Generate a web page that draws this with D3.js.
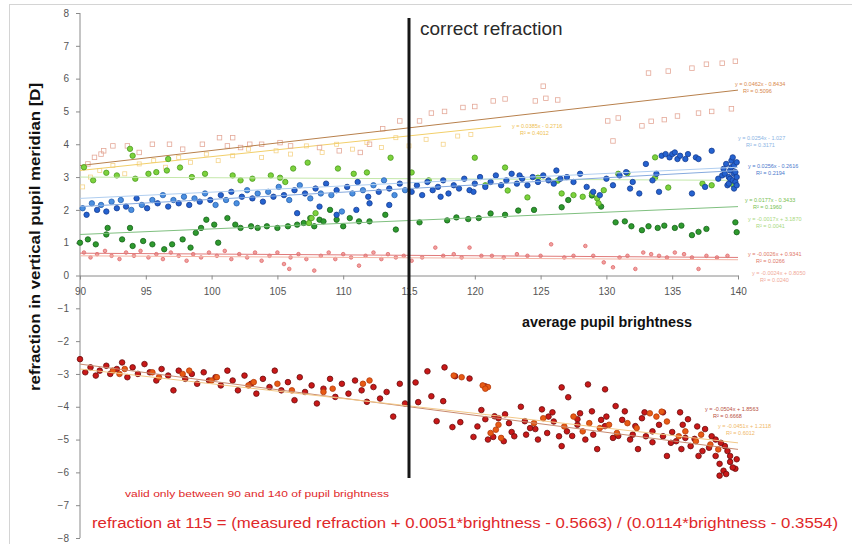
<!DOCTYPE html>
<html>
<head>
<meta charset="utf-8">
<script src="https://cdn.jsdelivr.net/npm/d3@7"></script>
<style>
  body { margin: 0; background: #fff; }
  svg { display: block; font-family: "Liberation Sans", Arial, sans-serif; }
</style>
</head>
<body>
<div id="chart"></div>
<script>
// ---- data: [brightness, refraction] ----
var xTicks = [90, 95, 100, 105, 110, 115, 120, 125, 130, 135, 140];
var yTicks = [-8, -7, -6, -5, -4, -3, -2, -1, 0, 1, 2, 3, 4, 5, 6, 7, 8];

var yellowPts = [[90.2,2.7],[90.8,3.0],[91.5,3.2],[92.5,3.35],[93.4,3.1],[94.5,3.4],[95.6,3.5],[96.5,3.3],[97.5,3.6],[98.4,3.45],[99.6,3.7],[100.5,3.5],[101.6,3.65],[102.8,3.85],[103.8,3.6],[104.9,3.8],[106,3.7],[107.2,3.95],[108.4,3.75],[109.5,4.0],[110.7,3.85],[111.8,4.05],[112.9,3.9],[114,4.2],[115,3.95],[116.3,4.15],[117.6,4.0],[118.7,4.25],[119.7,4.3]];

var salmonPts = [[90.6,3.4],[91.1,3.6],[91.6,3.7],[91.8,3.8],[92.5,3.95],[93.6,3.95],[94.5,3.75],[95.5,4.0],[96.8,4.0],[97.8,3.85],[99.3,4.0],[100.6,4.2],[101.2,3.95],[101.6,4.2],[102.2,3.9],[102.9,4.0],[103.8,4.0],[105.2,4.05],[106,3.95],[108.2,3.9],[109.7,3.8],[111.3,3.75],[112,4.0],[113,4.47],[114.3,4.71],[115.8,4.71],[116.7,4.95],[117.7,5.0],[119.1,5.12],[120,5.15],[121.4,5.32],[122.3,5.38],[124.6,5.32],[125.4,5.4],[126.3,5.35],[125.2,5.77],[130.1,4.71],[130.5,4.1],[130.9,4.8],[132.7,4.56],[133.4,4.7],[134.4,4.75],[135.4,4.86],[137,4.95],[138,5.0],[139.5,5.08],[133.2,6.17],[134.7,6.23],[136.5,6.32],[137.6,6.44],[138.8,6.47],[139.8,6.53]];

var pinkPts = [[90.3,0.7],[90.8,0.55],[91.3,0.65],[91.9,0.75],[92.4,0.6],[93,0.5],[93.5,0.7],[94.1,0.6],[94.6,0.75],[95.2,0.55],[95.8,0.65],[96.3,0.5],[96.9,0.7],[97.5,0.6],[98.1,0.45],[98.6,0.65],[99.2,0.55],[99.8,0.7],[100.4,0.6],[101,0.75],[101.5,0.5],[102.1,0.65],[102.7,0.55],[103.3,0.7],[103.8,0.45],[104.4,0.6],[105,0.7],[105.5,0.35],[106,0.55],[105.9,0.2],[106.6,0.65],[107.2,0.5],[107.8,0.15],[108.3,0.6],[108.9,0.7],[109.4,0.5],[110,0.65],[110.6,0.55],[111.2,0.3],[111.7,0.6],[112.3,0.7],[112.9,0.5],[113.4,0.65],[114,0.55],[114.6,0.6],[115.2,0.45],[116,0.55],[117,0.85],[117.6,0.6],[118.4,0.65],[119,0.55],[119.6,0.85],[120.5,0.6],[121.3,0.6],[122.2,0.55],[123.2,0.65],[124,0.6],[125,0.6],[125.8,0.95],[126.8,0.55],[127.5,0.6],[128.4,0.9],[129,0.6],[129.8,0.4],[130.5,0.25],[131,0.55],[131.6,0.6],[132.2,0.2],[132.8,0.7],[133.4,0.65],[134,0.6],[134.6,0.55],[135.2,0.7],[135.9,0.65],[136.5,0.55],[137,0.2],[137.6,0.6],[138.4,0.55],[139.2,0.6]];

var darkGreenPts = [[90,1.0],[90.6,1.1],[91.2,0.95],[92,1.25],[92.1,1.45],[93.2,1.1],[93.8,1.45],[94,0.9],[94.8,1.05],[95.5,0.95],[96.4,0.8],[97,0.95],[97.8,1.1],[98.4,0.85],[98.8,1.3],[99.2,1.45],[99.6,1.7],[100.2,1.55],[100.5,1.0],[101.2,1.75],[101.8,1.55],[102.2,1.45],[103,1.5],[103.5,1.45],[104.2,1.5],[105,1.45],[105.8,1.5],[106.5,1.55],[107,1.6],[107.5,1.75],[107.8,1.5],[108.2,1.7],[108.5,1.65],[109,2.0],[109.5,1.7],[110,1.5],[110.5,1.75],[111.2,1.65],[112,1.65],[113.2,1.85],[114,1.4],[115.8,1.62],[117.9,1.68],[118.6,1.77],[119.5,1.72],[120.3,1.75],[121.2,1.89],[122.3,1.85],[123.3,1.98],[124.5,2.0],[126.6,2.08],[127.1,2.3],[128.9,2.44],[129.6,2.1],[130.7,1.62],[131.4,1.65],[131.9,1.5],[132.7,1.38],[133.2,1.5],[133.9,1.45],[134.4,1.52],[135.2,1.45],[135.7,1.52],[136.5,1.23],[137,1.33],[137.6,1.42],[139.8,1.62],[139.9,1.32]];

var lightGreenPts = [[90.3,3.3],[91,2.9],[92,3.13],[92.8,3.05],[93.8,3.86],[94,3.65],[94.2,2.95],[95.2,3.1],[95.8,3.15],[96.6,3.2],[96.7,3.55],[97.6,3.29],[98.5,3.0],[99.5,3.1],[101.6,3.05],[102.2,2.9],[103.1,2.95],[104.5,3.05],[105.2,2.98],[105.6,2.85],[106.2,3.26],[107.3,3.44],[107.6,1.75],[107.9,1.9],[107.4,1.6],[109.6,3.26],[110.8,3.1],[111.8,3.14],[113.6,3.59],[115.2,3.14],[116.5,2.9],[120,3.59],[120.8,2.75],[122.3,3.29],[122.5,2.59],[124,2.38],[124.8,2.98],[126.3,2.89],[126.6,2.5],[127.5,2.45],[128.2,2.4],[128.9,2.5],[129.3,2.35],[129.4,2.2],[129.8,2.6],[130.9,3.1],[131.6,3.12],[133.7,2.98],[133.7,3.6],[134.7,2.68],[137.3,2.8],[138,2.75],[139.6,2.78]];

var lightBluePts = [[90.2,2.05],[90.9,2.2],[91.6,2.15],[92.4,2.25],[93.1,2.3],[93.9,2.0],[94.7,2.15],[95.5,2.3],[96.3,2.45],[97.1,2.3],[97.9,2.4],[98.7,2.35],[99.5,2.5],[100.3,2.15],[101.1,2.3],[101.9,2.2],[102.7,2.6],[103.5,2.5],[104.3,2.55],[105.1,2.7],[105.9,2.3],[106.7,2.75],[107.5,2.35],[108.3,2.5],[109.1,2.45],[109.9,1.95],[110.7,2.5],[111.5,2.6],[112.3,2.75],[113.1,2.9],[113.9,2.45],[114.7,2.6]];

var bluePts = [[90.5,1.85],[91.3,2.0],[92.0,1.95],[92.8,2.05],[93.5,2.1],[94.3,2.35],[95.1,2.05],[95.9,2.2],[96.7,2.1],[97.5,2.2],[98.3,2.15],[99.1,2.25],[99.9,2.3],[100.7,2.45],[101.5,2.55],[102.3,2.4],[103.1,2.35],[103.9,2.25],[104.7,2.4],[105.5,2.45],[106.3,2.6],[106.5,1.9],[107.1,2.5],[107.9,2.65],[108.2,2.1],[108.7,2.8],[109.5,2.6],[109.5,1.85],[110.3,2.7],[111,2.0],[111.1,2.85],[111.9,2.4],[112,2.2],[112.7,2.55],[113.5,2.65],[113.5,2.15],[114.3,2.8],[115.2,2.55],[115.6,2.75],[116,2.45],[116.4,2.85],[116.8,2.6],[117.2,2.7],[117.4,2.4],[117.6,2.9],[118,2.5],[118.4,2.75],[118.8,2.65],[119.2,2.95],[119.6,2.6],[119.9,2.55],[120,2.8],[120.4,3.0],[120.8,2.7],[121.2,2.85],[121.6,3.05],[122,2.75],[122.4,2.9],[122.8,3.1],[123.2,2.8],[123.4,3.05],[123.6,2.95],[124,2.75],[124.4,3.0],[124.8,2.85],[125.2,3.05],[125.6,2.9],[126,2.8],[126.2,3.2],[126.5,2.95],[127,3.0],[127.5,2.85],[128,3.1],[128.5,2.7],[129,2.55],[129.5,2.45],[130,2.95],[130.5,2.75],[131,3.05],[131.5,3.15],[131.8,2.65],[132,2.85],[132.5,2.5],[133,3.4],[133.5,2.9],[133.8,3.1],[134,2.55],[134.2,3.65],[134.5,3.7],[134.8,3.6],[135,3.7],[135.2,3.75],[135.4,3.55],[135.6,3.65],[136,3.55],[136.2,3.7],[136.5,2.5],[136.8,3.6],[137,3.55],[137.5,2.7],[138,3.8],[138.5,2.95],[138.8,3.05],[138.9,3.25],[139,3.1],[139.1,3.4],[139.2,2.75],[139.3,2.8],[139.3,3.0],[139.4,3.2],[139.4,2.95],[139.5,3.3],[139.5,3.5],[139.6,3.6],[139.6,2.9],[139.7,2.65],[139.7,3.35],[139.7,3.1],[139.8,2.85],[139.8,3.15],[139.9,3.0],[139.9,3.45],[139.9,2.75]];

var darkRedPts = [[90,-2.55],[90.4,-2.95],[90.8,-2.8],[91.2,-3.05],[91.5,-2.9],[92,-2.75],[92.3,-3.0],[92.8,-2.85],[93.2,-2.65],[93.6,-3.1],[94,-2.8],[94.4,-3.0],[94.9,-2.7],[95.3,-2.95],[95.8,-3.2],[96.2,-2.85],[96.7,-3.05],[97.1,-3.5],[97.5,-2.9],[98,-3.15],[98.5,-3.0],[98.9,-3.3],[99.4,-2.95],[99.8,-3.2],[100.3,-3.1],[100.7,-3.35],[101.2,-2.9],[101.6,-3.2],[102,-3.5],[102.5,-3.05],[103,-3.3],[103.4,-3.6],[103.9,-3.15],[104.4,-3.4],[104.8,-2.9],[105.3,-3.5],[105.8,-3.25],[106.3,-3.8],[106.7,-3.1],[107.1,-3.55],[107.6,-3.35],[108,-3.9],[108.5,-3.45],[109,-3.15],[109.4,-3.7],[109.9,-3.3],[110.4,-3.6],[110.9,-3.2],[111.4,-3.5],[111.8,-3.85],[112.3,-3.4],[112.8,-3.75],[113.3,-3.55],[113.8,-4.3],[114.3,-3.3],[114.7,-3.9],
  [115.5,-3.26],[116.4,-2.92],[117.7,-2.8],[118.5,-3.07],[119.6,-3.14],[120.8,-3.38],[115.7,-3.86],[116.7,-3.68],[117.6,-3.83],[117.1,-4.44],[118.3,-4.62],[118.9,-4.47],[119.9,-4.92],[120.8,-4.38],[121.5,-4.29],[121.4,-4.92],[122.3,-4.23],[122.8,-4.77],[123.8,-4.44],[124.6,-4.68],[125.1,-4.08],[125.9,-4.17],[126.6,-3.41],[126.6,-5.2],[127.1,-3.71],[127.4,-4.89],[127.8,-4.38],[128.6,-3.32],[128.9,-4.14],[129.3,-5.29],[129.9,-3.47],[129.9,-4.59],[130.7,-3.98],[130.9,-4.89],[131.4,-4.14],[132.2,-4.59],[132.4,-5.29],[132.9,-4.17],[133.5,-5.08],[134.3,-4.17],[134.6,-5.5],[135,-4.77],[135.6,-4.17],[135.7,-5.29],[136.2,-4.38],[136.7,-4.98],[137,-5.5],[137.5,-4.68],[138.3,-5.5],[138.6,-5.74],[139,-5.2],[139.4,-5.68],[138.6,-6.1],[139.8,-5.89],
  [120.2,-4.6],[121,-5.0],[122.6,-4.5],[123,-4.9],[123.5,-4.0],[124.2,-4.65],[125.5,-4.8],[126,-4.45],[127,-4.75],[128,-4.2],[129,-4.85],[130,-4.3],[130.5,-4.95],[131.2,-4.4],[132,-4.85],[132.7,-4.35],[133.5,-4.75],[134.3,-4.9],[135.3,-5.05],[135.8,-4.55],[136.4,-5.2],[137.3,-5.35],[138,-4.9],[138.7,-5.1],[139.2,-5.35],[139.6,-5.85],[139.9,-5.6],[138.9,-5.95],
  [121.8,-4.35],[122.2,-5.05],[124.8,-5.0],[125.6,-4.3],[126.4,-4.9],[127.8,-4.55],[128.4,-5.0],[129.6,-4.4],[131.8,-5.0],[133,-4.9],[134,-4.55],[134.9,-5.1],[136,-4.95],[136.9,-4.6],[137.8,-5.25],[138.3,-5.0],[139.4,-5.5],[139.1,-6.05],[120.5,-4.1],[123.9,-4.85]];

var orangeRedPts = [[92.5,-2.9],[93,-3.0],[93.4,-2.85],[95.5,-2.95],[96,-3.1],[97.8,-3.0],[98.3,-2.9],[100,-3.2],[100.4,-3.1],[102.8,-3.35],[103.2,-3.25],[105,-3.3],[106.1,-3.5],[108.5,-3.55],[109.2,-3.45],[111.5,-3.3],[112,-3.2],[118.4,-3.05],[119,-3.1],[120.6,-3.35],[121,-3.4],[120.8,-3.45],[121.2,-4.8],[121.6,-4.7],[122,-4.95],[121.8,-4.55],[124.5,-4.5],[125.2,-4.35],[126.8,-4.6],[127.5,-4.3],[128.2,-4.75],[128.7,-4.5],[129.5,-4.65],[130.2,-4.55],[130.8,-4.8],[131.6,-4.5],[132.3,-4.65],[133.3,-4.2],[133.8,-4.3],[134.2,-4.15],[134.6,-4.45],[135.5,-4.9],[136,-4.75],[136.8,-5.05],[137.2,-4.85],[137.9,-5.15],[138.5,-5.3]];

// trend lines (endpoints)
var salmonTrend = [[90,3.35],[140,5.65]];
var yellowTrend = [[90,3.2],[122,4.55]];
var lightGreenTrend = [[90,3.0],[140,2.9]];
var lightBlueTrend = [[90,2.35],[140,3.3]];
var blueTrend = [[90,2.1],[140,3.2]];
var greenTrend = [[90,1.25],[140,2.1]];
var pinkTrend = [[90,0.68],[140,0.55]];
var lightPinkTrend = [[90,0.6],[140,0.48]];
var darkRedTrend = [[90,-2.7],[140,-5.3]];
var orangeTrend = [[90,-2.85],[140,-5.1]];

// trend line equations (tiny labels at the right)
var eqLabels = [
  {x: 735, y: 86, color: "#d8884a", lines: ["y = 0.0462x - 0.8434", "R² = 0.5096"]},
  {x: 512, y: 128, color: "#eec050", lines: ["y = 0.0385x - 0.2716", "R² = 0.4012"]},
  {x: 738, y: 140, color: "#8ab4e4", lines: ["y = 0.0254x - 1.027", "R² = 0.3171"]},
  {x: 748, y: 168, color: "#4a78cc", lines: ["y = 0.0256x - 0.2616", "R² = 0.2194"]},
  {x: 745, y: 202, color: "#78c050", lines: ["y = 0.0177x - 0.3433", "R² = 0.1960"]},
  {x: 748, y: 221, color: "#a8d880", lines: ["y = -0.0017x + 3.1870", "R² = 0.0041"]},
  {x: 748, y: 256, color: "#e07868", lines: ["y = -0.0026x + 0.9341", "R² = 0.0266"]},
  {x: 752, y: 275, color: "#f0a898", lines: ["y = -0.0024x + 0.8050", "R² = 0.0240"]},
  {x: 705, y: 411, color: "#b85040", lines: ["y = -0.0504x + 1.8563", "R² = 0.6668"]},
  {x: 718, y: 428, color: "#f0b868", lines: ["y = -0.0451x + 1.2118", "R² = 0.6012"]}
];

var width = 852, height = 544;
var svg = d3.select("#chart").append("svg")
    .attr("width", width).attr("height", height);

var x = d3.scaleLinear().domain([90, 140]).range([80, 738]);
var y = d3.scaleLinear().domain([-8, 8]).range([538, 13]);

// chart frame
svg.append("rect").attr("x", 9.5).attr("y", 4.5)
   .attr("width", width - 8).attr("height", height)
   .attr("fill", "none").attr("stroke", "#d4d4d4");

// axes
var yAxis = svg.append("g").attr("transform", "translate(" + x(90) + ",0)")
   .call(d3.axisLeft(y).tickValues(yTicks).tickSize(4).tickPadding(7).tickFormat(d3.format("d")));
var xAxis = svg.append("g").attr("transform", "translate(0," + y(0) + ")")
   .call(d3.axisBottom(x).tickValues(xTicks).tickSize(4).tickPadding(8).tickSizeOuter(0));
[xAxis, yAxis].forEach(function (a) {
   a.select(".domain").attr("stroke", "#8a8a8a");
   a.selectAll(".tick line").attr("stroke", "#8a8a8a");
   a.selectAll("text").attr("fill", "#555").style("font-size", "10px")
    .style("font-family", "'Liberation Sans', Arial, sans-serif");
});
yAxis.select(".domain").attr("d", "M0," + y(-8) + "V" + y(8));

var line = d3.line().x(function (d) { return x(d[0]); }).y(function (d) { return y(d[1]); });

function trend(pts, colour, w) {
   svg.append("path").datum(pts).attr("d", line)
      .attr("fill", "none").attr("stroke", colour).attr("stroke-width", w || 1);
}

// filled round markers
function dots(pts, fill, stroke, r) {
   svg.append("g").selectAll("circle").data(pts).enter().append("circle")
      .attr("cx", function (d) { return x(d[0]); })
      .attr("cy", function (d) { return y(d[1]); })
      .attr("r", r).attr("fill", fill)
      .attr("stroke", stroke).attr("stroke-width", 0.8);
}
// hollow square markers
function squares(pts, stroke, s) {
   svg.append("g").selectAll("rect").data(pts).enter().append("rect")
      .attr("x", function (d) { return x(d[0]) - s / 2; })
      .attr("y", function (d) { return y(d[1]) - s / 2; })
      .attr("width", s).attr("height", s)
      .attr("fill", "none").attr("stroke", stroke).attr("stroke-width", 0.8);
}

// upper group (positive refraction)
squares(yellowPts, "#f5d48a", 4);
trend(yellowTrend, "#f2cf6a");
squares(salmonPts, "#e4a898", 4.5);
trend(salmonTrend, "#b8804c");
dots(pinkPts, "#f0a0a0", "#e06a6a", 1.8);
trend(pinkTrend, "#e07a7a");
trend(lightPinkTrend, "#f3b4a4");
dots(darkGreenPts, "#2e9a2e", "#17621a", 2.7);
trend(greenTrend, "#80c080");
dots(lightGreenPts, "#7cd23c", "#4c9a22", 2.7);
trend(lightGreenTrend, "#c4e8aa");
dots(lightBluePts, "#4a8fe0", "#2a62b0", 2.7);
dots(bluePts, "#2462d0", "#163e92", 2.7);
trend(lightBlueTrend, "#b0cef0");
trend(blueTrend, "#86aade");

// lower group (negative refraction)
dots(darkRedPts, "#c81818", "#6a0c0c", 2.8);
dots(orangeRedPts, "#e85a14", "#b43a0a", 2.8);
trend(darkRedTrend, "#c88a70");
trend(orangeTrend, "#f2c888");

// equation labels
eqLabels.forEach(function (l) {
   var t = svg.append("text").attr("x", l.x).attr("y", l.y)
      .attr("fill", l.color).style("font-size", "5.5px");
   l.lines.forEach(function (s, i) {
      t.append("tspan").attr("x", l.x + (i == 0 ? 0 : 8)).attr("dy", i == 0 ? 0 : 7).text(s);
   });
});

// "correct refraction" marker at 115
svg.append("line").attr("x1", x(115)).attr("x2", x(115))
   .attr("y1", 18).attr("y2", 478)
   .attr("stroke", "#161616").attr("stroke-width", 3);
svg.append("text").attr("x", 420).attr("y", 35).text("correct refraction")
   .attr("fill", "#2a2a2a").style("font-size", "19px");

// axis titles
svg.append("text").attr("x", 607).attr("y", 327).attr("text-anchor", "middle")
   .text("average pupil brightness").attr("fill", "#111")
   .attr("textLength", 170).attr("lengthAdjust", "spacingAndGlyphs")
   .style("font-size", "14px").style("font-weight", "bold");
svg.append("text").attr("transform", "translate(40,237) rotate(-90)")
   .attr("text-anchor", "middle").text("refraction in vertical pupil meridian [D]")
   .attr("textLength", 308).attr("lengthAdjust", "spacingAndGlyphs")
   .attr("fill", "#111").style("font-size", "14.5px").style("font-weight", "bold");

// notes at the bottom
svg.append("text").attr("x", 125).attr("y", 497)
   .text("valid only between 90 and 140 of pupil brightness")
   .attr("textLength", 264).attr("lengthAdjust", "spacingAndGlyphs")
   .attr("fill", "#e0282a").style("font-size", "9.5px");
svg.append("text").attr("x", 92).attr("y", 528)
   .text("refraction at 115 = (measured refraction + 0.0051*brightness - 0.5663) / (0.0114*brightness - 0.3554)")
   .attr("textLength", 746).attr("lengthAdjust", "spacingAndGlyphs")
   .attr("fill", "#e0282a").style("font-size", "15.5px");
</script>
</body>
</html>
